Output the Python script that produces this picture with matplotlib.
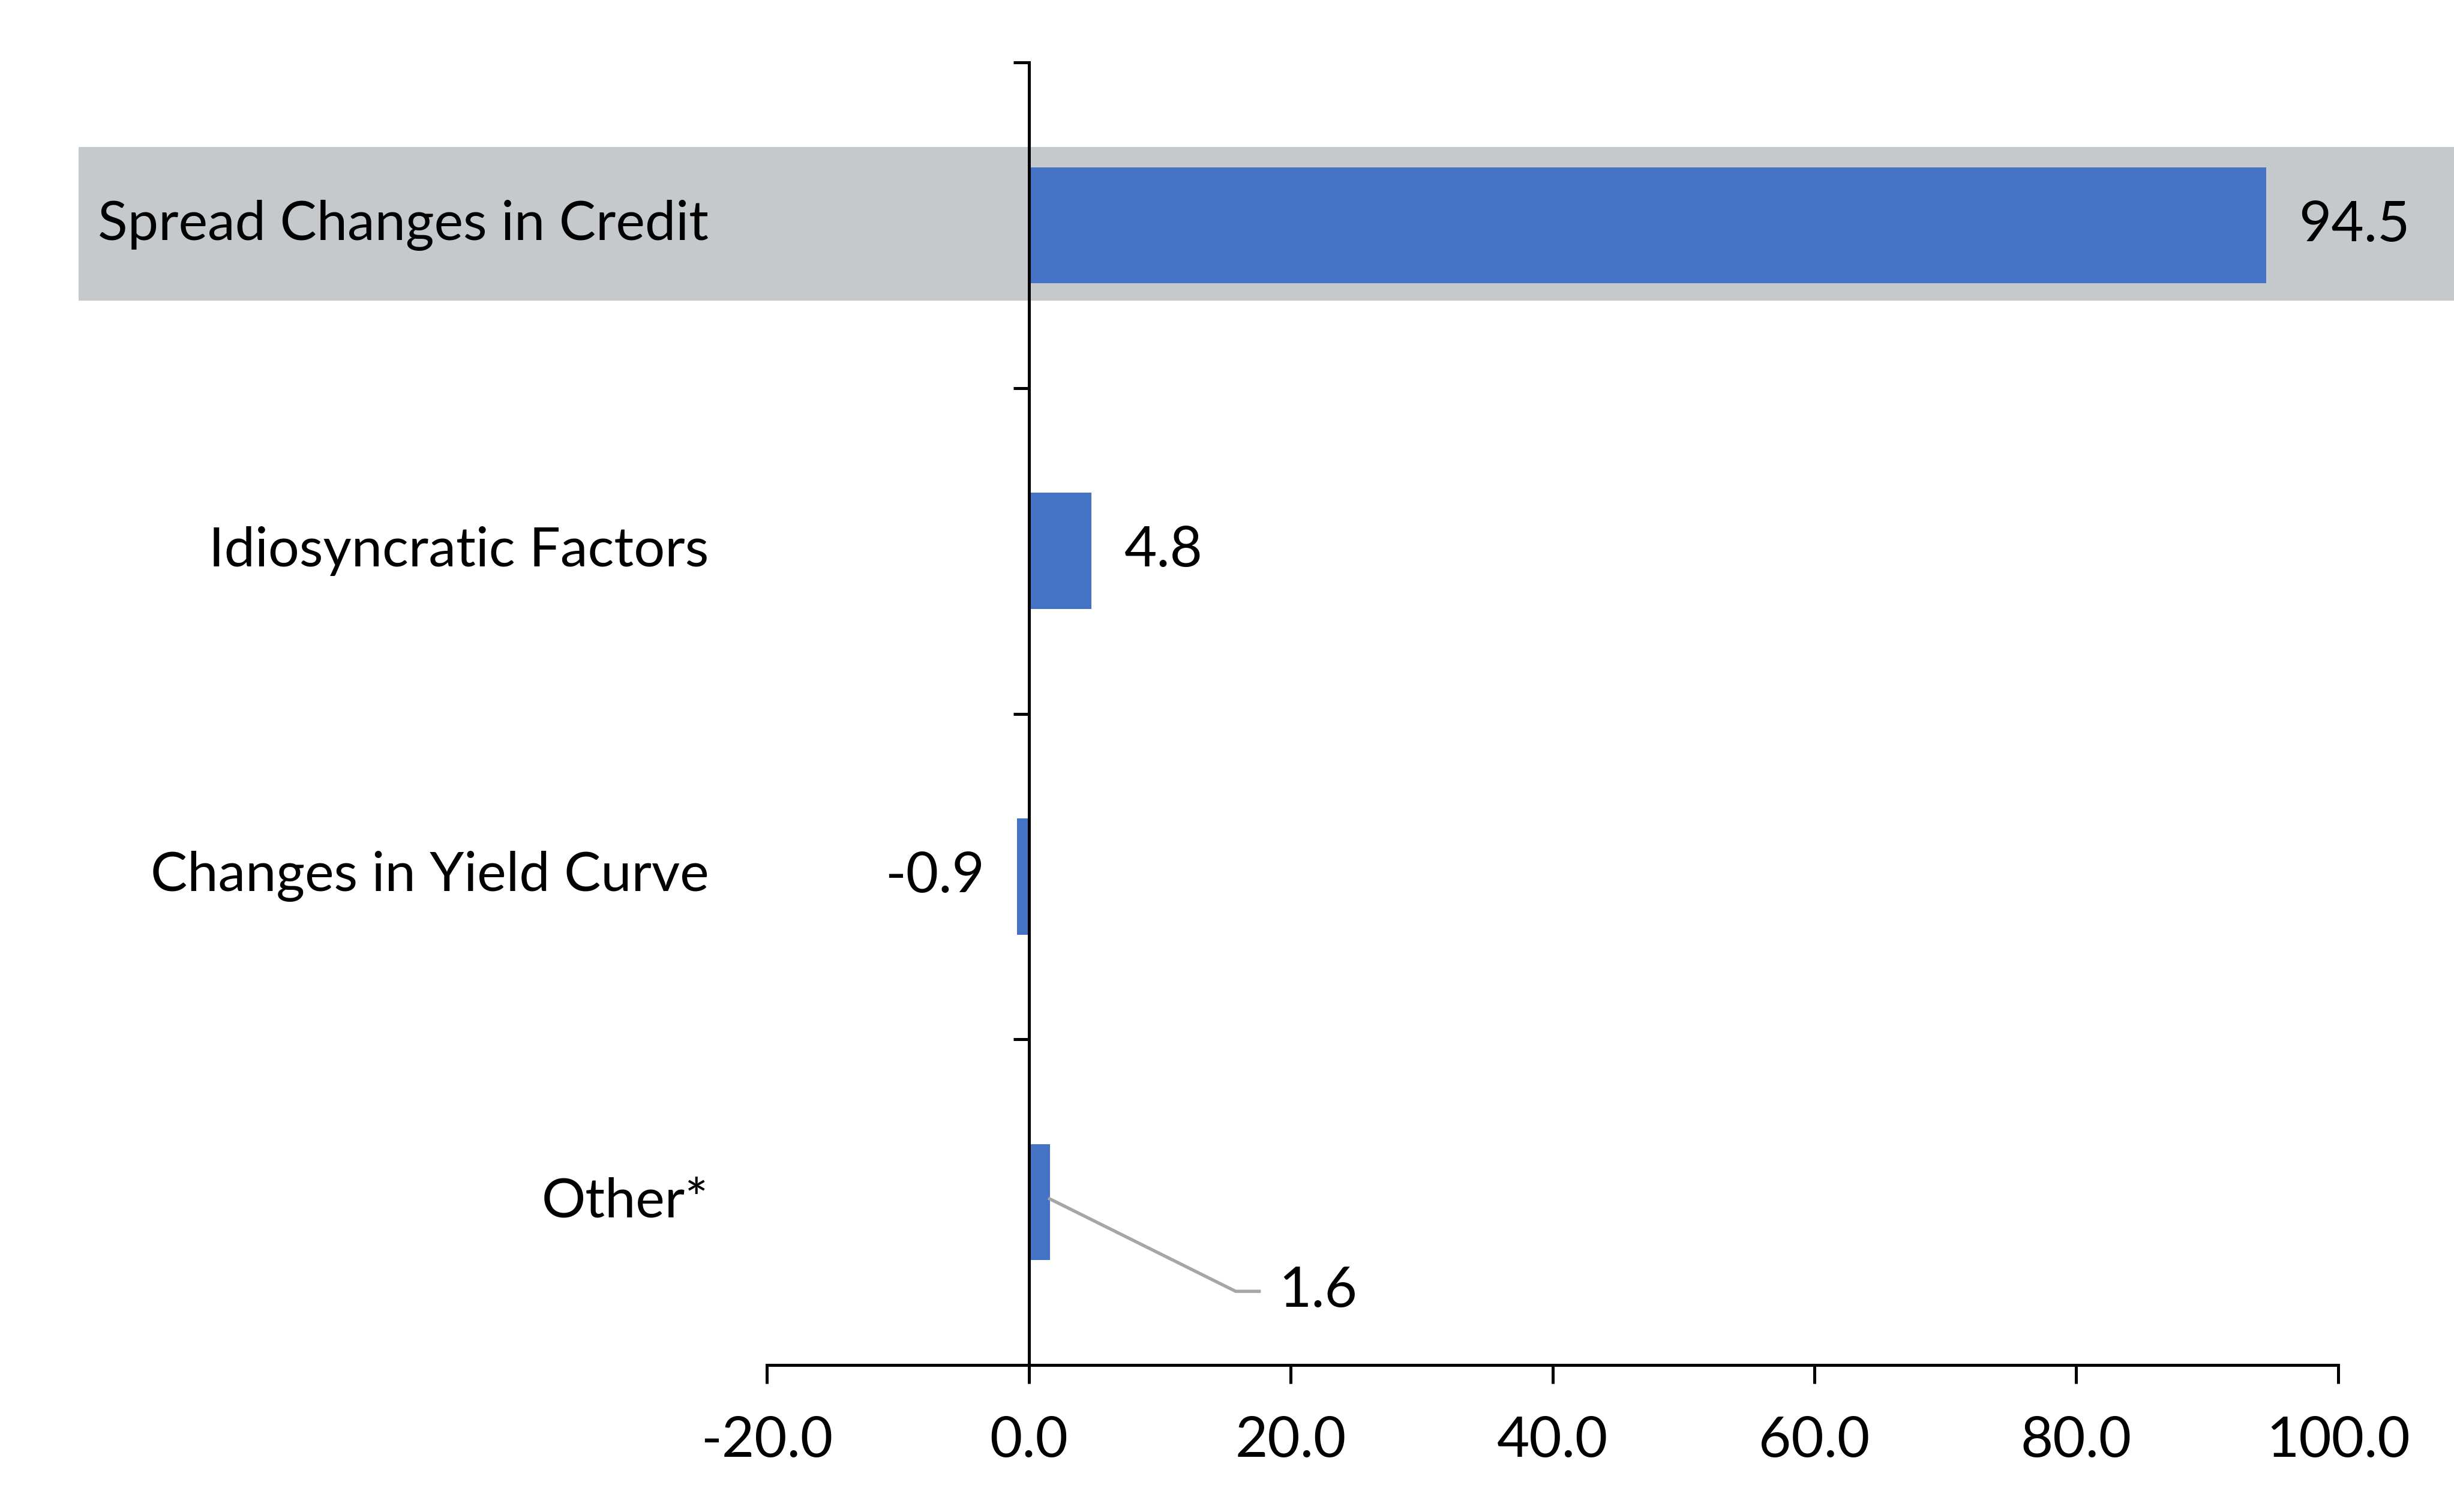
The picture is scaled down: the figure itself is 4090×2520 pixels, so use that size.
import matplotlib.pyplot as plt
import matplotlib.transforms as mtransforms
from matplotlib.patches import Rectangle

# data
categories = ['Spread Changes in Credit', 'Idiosyncratic Factors',
              'Changes in Yield Curve', 'Other*']
values = [94.5, 4.8, -0.9, 1.6]
value_labels = ['94.5', '4.8', '-0.9', '1.6']
x_ticks = [-20, 0, 20, 40, 60, 80, 100]
x_tick_labels = ['-20.0', '0.0', '20.0', '40.0', '60.0', '80.0', '100.0']

plt.rcParams['font.family'] = ['Lato', 'DejaVu Sans']
fs = 22.5
fs_cat = 22

fig = plt.figure(figsize=(4090 / 300, 2520 / 300), dpi=300)
ax = fig.add_axes([0.3125, 0.0973, 0.6403, 0.8613])

pos = list(range(len(categories)))
ax.barh(pos, values, height=0.357, color='#4472C4', zorder=3)
ax.set_xlim(-20, 100)
ax.set_ylim(3.5, -0.5)

# grey highlight band behind the first row, running out to the figure edges
trans = mtransforms.blended_transform_factory(fig.transFigure, ax.transData)
ax.add_patch(Rectangle((0.032, -0.24), 0.968, 0.471, transform=trans,
                       facecolor='#C5C9CC', edgecolor='none', zorder=0, clip_on=False))

# axes
for s in ['top', 'right']:
    ax.spines[s].set_visible(False)
ax.spines['left'].set_position(('data', 0))
ax.spines['left'].set_linewidth(1.2)
ax.spines['bottom'].set_linewidth(1.2)
ax.spines['left'].set_zorder(4)

ax.set_yticks([-0.5, 0.5, 1.5, 2.5, 3.5])
ax.set_yticklabels([])
ax.tick_params(axis='y', direction='out', length=6.2, width=1.2)

ax.set_xticks(x_ticks)
ax.set_xticklabels(x_tick_labels, fontsize=fs)
ax.tick_params(axis='x', direction='out', length=7.4, width=1.2, pad=13)

# category labels
for i, c in enumerate(categories):
    ax.text(-0.037, i, c, transform=ax.get_yaxis_transform(),
            ha='right', va='center', fontsize=fs_cat)

# value labels
for i, (v, lbl) in enumerate(zip(values, value_labels)):
    if i == 3:
        lx, ly = 19.1, 3.274
        ax.plot([v, lx - 3.3, lx - 1.5], [2.99, ly, ly], color='#A6A6A6', lw=1.3, zorder=4)
        ax.text(lx, ly, lbl, ha='left', va='center', fontsize=fs)
        continue
    off = 13 if v >= 0 else -13
    ax.annotate(lbl, xy=(v, i), xytext=(off, 0), textcoords='offset points',
                ha='left' if v >= 0 else 'right', va='center', fontsize=fs)

fig.savefig('out.png', dpi=300)
